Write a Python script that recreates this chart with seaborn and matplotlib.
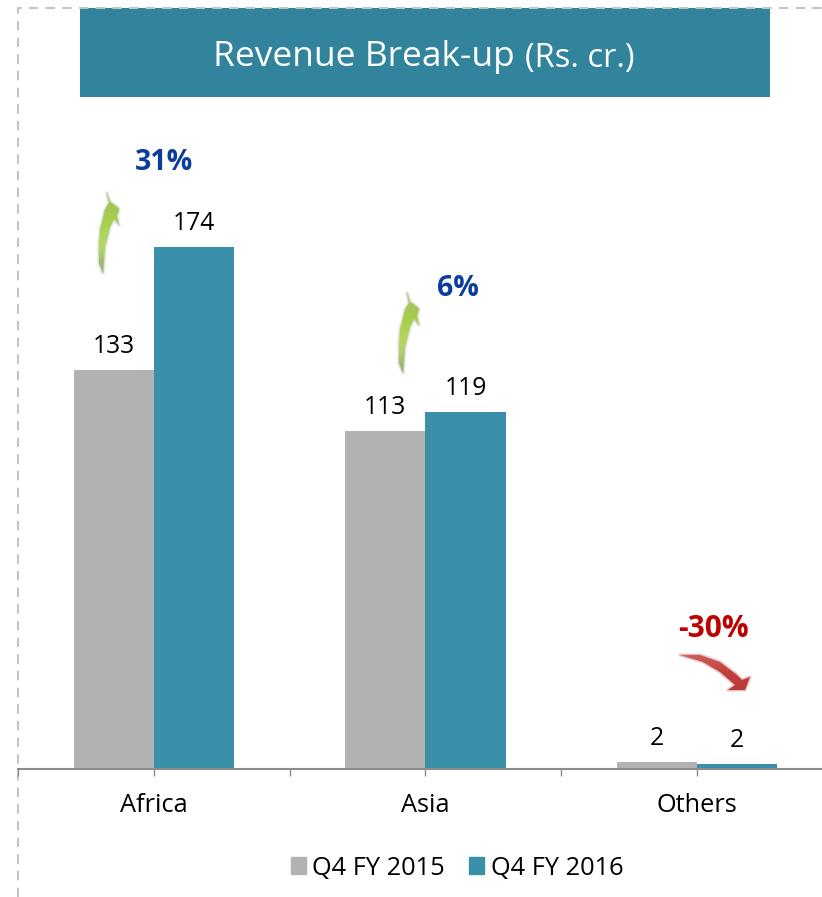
import numpy as np
import pandas as pd
import seaborn as sns
import matplotlib.pyplot as plt
from matplotlib.colors import LinearSegmentedColormap
from matplotlib.lines import Line2D
from matplotlib.patches import Polygon, Rectangle

# Data
regions = ['Africa', 'Asia', 'Others']
q4_2015 = [133, 112.7, 2.4]
q4_2016 = [174, 119, 1.7]
labels_2015 = ['133', '113', '2']
labels_2016 = ['174', '119', '2']
series_names = ['Q4 FY 2015', 'Q4 FY 2016']
growth = ['31%', '6%', '-30%']

GREY = '#b2b2b2'
TEAL = '#3a8fa9'
BANNER = '#31849b'
FONT = 'Open Sans'

sns.set_theme(style='white')
plt.rcParams['font.family'] = [FONT, 'DejaVu Sans']

df = pd.DataFrame({
    'Region': regions * 2,
    'Series': [series_names[0]] * 3 + [series_names[1]] * 3,
    'Value': q4_2015 + q4_2016,
})

W, H = 822, 897
fig = plt.figure(figsize=(W / 100, H / 100), dpi=100)
ax = fig.add_axes([18 / W, 1 - 769 / H, (W - 18) / W, (769 - 100) / H])

sns.barplot(data=df, x='Region', y='Value', hue='Series', order=regions,
            palette=[GREY, TEAL], width=0.59, gap=0, linewidth=0,
            saturation=1, ax=ax, legend=False)

ax.set_xlim(-0.5, 2.46)
ax.set_ylim(0, 223)
ax.set_xlabel('')
ax.set_ylabel('')
ax.set_yticks([])
ax.patch.set_alpha(0)

for side in ['left', 'top', 'right']:
    ax.spines[side].set_visible(False)
ax.spines['bottom'].set_color('#8c8c8c')
ax.spines['bottom'].set_linewidth(1.5)

# ticks at the centres and the boundaries of the categories
ax.set_xticks([0, 1, 2])
ax.set_xticks([-0.5, 0.5, 1.5], minor=True)
ax.tick_params(axis='x', which='both', length=5, width=1, color='#8c8c8c',
               bottom=True)
ax.tick_params(axis='x', which='major', labelsize=18.3, labelcolor='black', pad=12.5)

ax.bar_label(ax.containers[0], labels=labels_2015, padding=8, fontsize=17.8, color='black')
ax.bar_label(ax.containers[1], labels=labels_2016, padding=8, fontsize=17.8, color='black')

handles = [Rectangle((0, 0), 1, 1, color=GREY), Rectangle((0, 0), 1, 1, color=TEAL)]
fig.legend(handles, series_names, loc='center', bbox_to_anchor=(457 / W, 1 - 868 / H),
           ncol=2, frameon=False, fontsize=18.3, labelcolor='black',
           handlelength=0.6, handleheight=0.6, handletextpad=0.25, columnspacing=0.95)

# pixel overlay for the banner, the dashed frame and the arrows
ov = fig.add_axes([0, 0, 1, 1], zorder=-1)
ov.set_xlim(0, W)
ov.set_ylim(H, 0)
ov.axis('off')

ov.add_line(Line2D([18, 18, W], [H, 8, 8], color='#c4c4c4', lw=1.5, ls=(0, (4.5, 3.5))))
ov.add_patch(Rectangle((80, 8), 690, 89, color=BANNER, lw=0))
ov.text(213, 57, 'Revenue Break-up', fontsize=25.5, color='white', va='center', ha='left')
ov.text(525, 58, '(Rs. cr.)', fontsize=23.5, color='white', va='center', ha='left')

BLUE = '#0b3d9c'
RED = '#c00000'
ov.text(164, 163, growth[0], fontsize=20.5, fontweight='bold', color=BLUE, ha='center', va='center')
ov.text(458, 289, growth[1], fontsize=20.5, fontweight='bold', color=BLUE, ha='center', va='center')
ov.text(713, 629, growth[2], fontsize=21.5, fontweight='bold', color=RED, ha='center', va='center')


def arrow(points, colors, extent, edge):
    # soft edge first, then the gradient fill clipped to the same outline
    for lw, alpha in [(3, 0.12), (1.5, 0.25)]:
        ov.add_patch(Polygon(points, closed=True, fill=False, ec=edge, lw=lw,
                             alpha=alpha, zorder=2, joinstyle='round'))
    cmap = LinearSegmentedColormap.from_list('a', colors)
    grad = np.linspace(0, 1, 64).reshape(-1, 1)
    img = ov.imshow(grad, cmap=cmap, extent=extent, aspect='auto', zorder=3,
                    interpolation='bilinear', origin='upper')
    img.set_clip_path(Polygon(points, transform=ov.transData))
    ov.set_xlim(0, W)
    ov.set_ylim(H, 0)


green_shape = np.array([(107, 193), (110, 202), (116, 206), (119, 209), (117, 216),
                        (119, 225), (114, 219), (110, 227), (105, 247), (103, 273),
                        (99, 263), (99, 245), (100, 230), (105, 210), (109, 203)])
green_colors = ['#9fbf5a', '#a8cf4c', '#b4d968', '#93a878']
arrow(green_shape, green_colors, (98, 121, 274, 193), '#8a9a70')
arrow(green_shape + [300, 100], green_colors, (398, 421, 374, 293), '#8a9a70')

red_shape = np.array([(680, 655), (700, 655), (720, 662), (737, 675), (742, 680),
                      (750, 677), (745, 690), (728, 690), (735, 685), (720, 672),
                      (703, 662)])
arrow(red_shape, ['#d0625d', '#c4403c', '#b93a36'], (680, 751, 692, 652), '#a05050')

fig.savefig('out.png', dpi=100)
